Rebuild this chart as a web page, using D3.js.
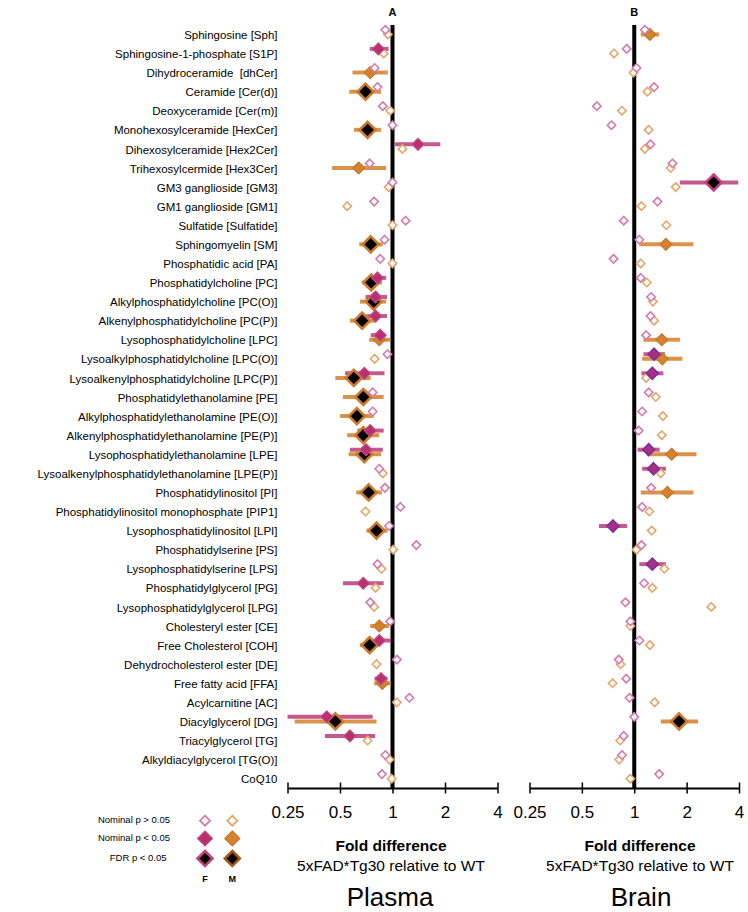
<!DOCTYPE html>
<html>
<head>
<meta charset="utf-8">
<script src="https://cdn.jsdelivr.net/npm/d3@7"></script>
<style>
  html, body { margin: 0; padding: 0; background: #fff; }
  svg { display: block; font-family: "Liberation Sans", Arial, sans-serif; }
</style>
</head>
<body>
<svg id="chart" width="748" height="912"></svg>
<script>
// ---------------- DATA ----------------
const categories = [
  "Sphingosine [Sph]", "Sphingosine-1-phosphate [S1P]", "Dihydroceramide  [dhCer]", "Ceramide [Cer(d)]",
  "Deoxyceramide [Cer(m)]", "Monohexosylceramide [HexCer]", "Dihexosylceramide [Hex2Cer]", "Trihexosylcermide [Hex3Cer]",
  "GM3 ganglioside [GM3]", "GM1 ganglioside [GM1]", "Sulfatide [Sulfatide]", "Sphingomyelin [SM]",
  "Phosphatidic acid [PA]", "Phosphatidylcholine [PC]", "Alkylphosphatidylcholine [PC(O)]", "Alkenylphosphatidylcholine [PC(P)]",
  "Lysophosphatidylcholine [LPC]", "Lysoalkylphosphatidylcholine [LPC(O)]", "Lysoalkenylphosphatidylcholine [LPC(P)]",
  "Phosphatidylethanolamine [PE]", "Alkylphosphatidylethanolamine [PE(O)]", "Alkenylphosphatidylethanolamine [PE(P)]",
  "Lysophosphatidylethanolamine [LPE]", "Lysoalkenylphosphatidylethanolamine [LPE(P)]", "Phosphatidylinositol [PI]",
  "Phosphatidylinositol monophosphate [PIP1]", "Lysophosphatidylinositol [LPI]", "Phosphatidylserine [PS]",
  "Lysophosphatidylserine [LPS]", "Phosphatidylglycerol [PG]", "Lysophosphatidylglycerol [LPG]", "Cholesteryl ester [CE]",
  "Free Cholesterol [COH]", "Dehydrocholesterol ester [DE]", "Free fatty acid [FFA]", "Acylcarnitine [AC]",
  "Diacylglycerol [DG]", "Triacylglycerol [TG]", "Alkyldiacylglycerol [TG(O)]", "CoQ10"
];

// significance: 0 = nominal p > 0.05, 1 = nominal p < 0.05, 2 = FDR p < 0.05
const plasmaF     = [0.91,0.83,0.79,0.82,0.88,1.00,1.40,0.74,1.00,0.785,1.19,0.90,0.85,0.82,0.80,0.80,0.85,0.935,0.69,0.77,0.77,0.745,0.705,0.84,0.905,1.11,0.955,1.37,0.82,0.68,0.745,0.97,0.84,1.06,0.86,1.25,0.42,0.57,0.91,0.87];
const plasmaFSig  = [0,1,0,0,0,0,1,0,0,0,0,0,0,1,1,1,1,0,1,0,0,1,1,0,0,0,0,0,0,1,0,0,1,0,1,0,1,1,0,0];
const plasmaFLow  = [null,0.74,null,null,null,null,1.035,null,null,null,null,null,null,0.76,0.70,0.71,0.75,null,0.535,null,null,0.63,0.57,null,null,null,null,null,null,0.52,null,null,0.795,null,0.79,null,0.25,0.41,null,null];
const plasmaFHigh = [null,0.95,null,null,null,null,1.88,null,null,null,null,null,null,0.92,0.93,0.93,0.91,null,0.90,null,null,0.89,0.88,null,null,null,null,null,null,0.89,null,null,0.98,null,0.935,null,0.77,0.795,null,null];

const plasmaM     = [0.94,0.89,0.745,0.70,0.97,0.72,1.14,0.64,0.95,0.55,1.00,0.75,1.00,0.755,0.78,0.67,0.84,0.79,0.60,0.68,0.625,0.68,0.69,0.88,0.73,0.70,0.81,1.01,0.865,0.80,0.785,0.84,0.74,0.81,0.875,1.06,0.47,0.72,0.96,0.99];
const plasmaMSig  = [0,0,1,2,0,2,0,1,0,0,0,2,0,2,2,2,1,0,2,2,2,2,2,0,2,0,2,0,0,0,0,1,2,0,1,0,2,0,0,0];
const plasmaMLow  = [null,null,0.59,0.565,null,0.60,null,0.45,null,null,null,0.645,null,0.67,0.65,0.57,0.735,null,0.47,0.52,0.50,0.55,0.56,null,0.62,null,0.71,null,null,null,null,0.745,0.65,null,0.785,null,0.275,null,null,null];
const plasmaMHigh = [null,null,0.94,0.86,null,0.86,null,0.92,null,null,null,0.88,null,0.87,0.92,0.80,0.97,null,0.75,0.89,0.78,0.84,0.86,null,0.87,null,0.935,null,null,null,null,0.955,0.82,null,0.98,null,0.81,null,null,null];

const brainF      = [1.15,0.905,1.03,1.30,0.61,0.74,1.24,1.66,2.86,1.36,0.87,1.07,0.76,1.09,1.25,1.24,1.17,1.30,1.27,1.21,1.11,1.06,1.21,1.29,1.25,1.11,0.755,1.10,1.27,1.14,0.89,0.95,1.07,0.815,0.90,0.94,1.00,0.87,0.85,1.39];
const brainFSig   = [0,0,0,0,0,0,0,0,2,0,0,0,0,0,0,0,0,1,1,0,0,0,1,1,0,0,1,0,1,0,0,0,0,0,0,0,0,0,0,0];
const brainFLow   = [null,null,null,null,null,null,null,null,1.83,null,null,null,null,null,null,null,null,1.13,1.10,null,null,null,1.045,1.11,null,null,0.627,null,1.07,null,null,null,null,null,null,null,null,null,null,null];
const brainFHigh  = [null,null,null,null,null,null,null,null,3.96,null,null,null,null,null,null,null,null,1.50,1.47,null,null,null,1.40,1.52,null,null,0.91,null,1.52,null,null,null,null,null,null,null,null,null,null,null];

const brainM      = [1.23,0.765,0.99,1.19,0.85,1.21,1.15,1.62,1.73,1.10,1.53,1.52,1.09,1.18,1.28,1.30,1.44,1.45,1.17,1.33,1.46,1.44,1.64,1.42,1.55,1.22,1.26,1.03,1.49,1.27,2.77,0.95,1.23,0.835,0.75,1.31,1.81,0.83,0.82,0.95];
const brainMSig   = [1,0,0,0,0,0,0,0,0,0,0,1,0,0,0,0,1,1,0,0,0,0,1,0,1,0,0,0,0,0,0,0,0,0,0,0,2,0,0,0];
const brainMLow   = [1.09,null,null,null,null,null,null,null,null,null,null,1.07,null,null,null,null,1.13,1.11,null,null,null,null,1.18,null,1.09,null,null,null,null,null,null,null,null,null,null,null,1.42,null,null,null];
const brainMHigh  = [1.39,null,null,null,null,null,null,null,null,null,null,2.19,null,null,null,null,1.83,1.89,null,null,null,null,2.28,null,2.19,null,null,null,null,null,null,null,null,null,null,null,2.33,null,null,null];

const tickValues = [0.25, 0.5, 1, 2, 4];
const tickLabels = ["0.25", "0.5", "1", "2", "4"];
const panelLetters = ["A", "B"];
const panelTitles = ["Plasma", "Brain"];
const legendLabels = ["Nominal p > 0.05", "Nominal p < 0.05", "FDR p < 0.05"];
const sexLabels = ["F", "M"];

// ---------------- STYLES ----------------
const C = {
  Fopen: "#d47aac", Mopen: "#e6a66a",
  Ffill: "#b8306f", Fstroke: "#c44c84",
  Mfill: "#d4822e", Mstroke: "#c8762a",
  FfdrStroke: "#c2407e", MfdrStroke: "#cc7a2c",
  BFfill: "#a8307f", BFstroke: "#7d2fa0",
  Fbar: "#c14b85", Mbar: "#d98a3c"
};

const svg = d3.select("#chart");
const axisY = 788;
const y = d3.scaleLinear().domain([0, categories.length - 1]).range([35, 779.3]);

const diamond = r => `M0,${-r}L${r},0L0,${r}L${-r},0Z`;

function styleFor(sex, sig, panel) {
  if (sig === 0) return { r: 4.2, fill: "#fff", stroke: sex === "F" ? C.Fopen : C.Mopen, sw: 1.6 };
  if (sig === 1) {
    if (sex === "F") {
      return panel === 1 ? { r: 6, fill: C.BFfill, stroke: C.BFstroke, sw: 1.6 }
                         : { r: 6, fill: C.Ffill, stroke: C.Fstroke, sw: 1.2 };
    }
    return { r: 6, fill: C.Mfill, stroke: C.Mstroke, sw: 1.2 };
  }
  return { r: 8, fill: "#000", stroke: sex === "F" ? C.FfdrStroke : C.MfdrStroke, sw: 2.6 };
}

const panels = [
  { range: [287.5, 497.5], F: plasmaF, FS: plasmaFSig, FL: plasmaFLow, FH: plasmaFHigh,
    M: plasmaM, MS: plasmaMSig, ML: plasmaMLow, MH: plasmaMHigh, titleX: 391 },
  { range: [529.5, 739], F: brainF, FS: brainFSig, FL: brainFLow, FH: brainFHigh,
    M: brainM, MS: brainMSig, ML: brainMLow, MH: brainMHigh, titleX: 640 }
];

// category labels
svg.append("g").selectAll("text").data(categories).join("text")
  .attr("x", 277.5).attr("y", (d, i) => y(i)).attr("dy", "0.35em")
  .attr("text-anchor", "end").attr("font-size", 11.5).attr("fill", "#000")
  .attr("xml:space", "preserve")
  .text(d => d);

panels.forEach((p, pi) => {
  const x = d3.scaleLog().base(2).domain([0.25, 4]).range(p.range);
  const g = svg.append("g");

  // panel letter
  g.append("text").attr("x", x(1)).attr("y", 16).attr("text-anchor", "middle")
    .attr("font-size", 11).attr("font-weight", "bold").text(panelLetters[pi]);

  // axis
  const ax = g.append("g").attr("transform", `translate(0,${axisY})`)
    .call(d3.axisBottom(x).tickValues(tickValues).tickFormat((d, i) => tickLabels[i]).tickSizeOuter(0));
  ax.select(".domain").attr("stroke", "#000").attr("stroke-width", 2);
  ax.selectAll(".tick line").attr("y1", -5.5).attr("y2", 5.5).attr("stroke", "#000").attr("stroke-width", 1.5);
  ax.selectAll(".tick text").attr("y", 30).attr("dy", 0).attr("font-size", 17)
    .attr("fill", "#000").attr("font-family", '"Liberation Sans", Arial, sans-serif');

  // reference line at 1
  g.append("line").attr("x1", x(1)).attr("x2", x(1)).attr("y1", 25).attr("y2", axisY)
    .attr("stroke", "#000").attr("stroke-width", 4);

  const rows = categories.map((c, i) => ({ i,
    F: { v: p.F[i], s: p.FS[i], lo: p.FL[i], hi: p.FH[i], y: y(i) - 5.2 },
    M: { v: p.M[i], s: p.MS[i], lo: p.ML[i], hi: p.MH[i], y: y(i) - 0.6 } }));

  // error bars
  ["F", "M"].forEach(sex => {
    g.append("g").selectAll("line").data(rows.filter(r => r[sex].lo != null)).join("line")
      .attr("x1", r => x(r[sex].lo)).attr("x2", r => x(Math.min(r[sex].hi, 4)))
      .attr("y1", r => r[sex].y).attr("y2", r => r[sex].y)
      .attr("stroke", sex === "F" ? C.Fbar : C.Mbar).attr("stroke-width", 4).attr("opacity", 0.92);
  });

  // markers: M first then F
  ["M", "F"].forEach(sex => {
    g.append("g").selectAll("path").data(rows).join("path")
      .attr("transform", r => `translate(${x(r[sex].v)},${r[sex].y})`)
      .each(function (r) {
        const st = styleFor(sex, r[sex].s, pi);
        d3.select(this).attr("d", diamond(st.r)).attr("fill", st.fill)
          .attr("stroke", st.stroke).attr("stroke-width", st.sw).attr("stroke-linejoin", "miter");
      });
  });

  // axis titles
  g.append("text").attr("x", p.titleX).attr("y", 851).attr("text-anchor", "middle")
    .attr("font-size", 15.5).attr("font-weight", "bold").text("Fold difference");
  g.append("text").attr("x", p.titleX).attr("y", 871).attr("text-anchor", "middle")
    .attr("font-size", 15.5).text("5xFAD*Tg30 relative to WT");
  g.append("text").attr("x", pi === 0 ? 390 : 641).attr("y", 906).attr("text-anchor", "middle")
    .attr("font-size", 26).text(panelTitles[pi]);
});

// legend
const lg = svg.append("g");
const legendY = [820.7, 838.5, 858.5];
lg.selectAll("text.lab").data(legendLabels).join("text").attr("class", "lab")
  .attr("x", (d, i) => i === 2 ? 166.5 : 170).attr("y", (d, i) => legendY[i] - 1).attr("dy", "0.35em")
  .attr("text-anchor", "end").attr("font-size", 9.5).text(d => d);
const legendStyles = [
  [{ r: 5, fill: "#fff", stroke: C.Fopen, sw: 1.8 }, { r: 5, fill: "#fff", stroke: C.Mopen, sw: 1.8 }],
  [{ r: 7.5, fill: C.Ffill, stroke: C.Fstroke, sw: 1.2 }, { r: 7.5, fill: C.Mfill, stroke: C.Mstroke, sw: 1.2 }],
  [{ r: 7.5, fill: "#000", stroke: C.FfdrStroke, sw: 2.6 }, { r: 7.5, fill: "#000", stroke: "#a5560f", sw: 2.6 }]
];
const legendX = [205, 232.3];
legendStyles.forEach((row, ri) => row.forEach((st, ci) => {
  lg.append("path").attr("transform", `translate(${legendX[ci]},${legendY[ri]})`)
    .attr("d", diamond(st.r)).attr("fill", st.fill).attr("stroke", st.stroke).attr("stroke-width", st.sw);
}));
lg.selectAll("text.sex").data(sexLabels).join("text").attr("class", "sex")
  .attr("x", (d, i) => legendX[i]).attr("y", 881.5).attr("text-anchor", "middle")
  .attr("font-size", 9).attr("font-weight", "bold").text(d => d);
</script>
</body>
</html>
